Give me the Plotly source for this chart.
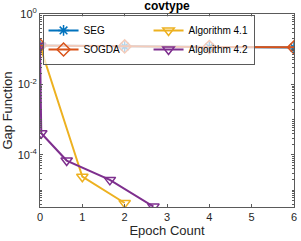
import plotly.graph_objects as go

seg_x = [0, 2, 4, 6]
seg_y = [0.127, 0.119, 0.115, 0.112]
sogda_x = [0, 2, 4, 6]
sogda_y = [0.127, 0.120, 0.116, 0.113]
alg41_x = [0, 1.0, 2.0]
alg41_y = [0.125, 2.4e-5, 4.3e-6]
alg42_x = [0, 0.03, 0.63, 1.65, 2.68]
alg42_y = [0.125, 4.1e-4, 6.9e-5, 1.95e-5, 3.4e-6]

x_ticks = [0, 1, 2, 3, 4, 5, 6]
y_ticks = [1, 1e-2, 1e-4]
y_ticktext = ["10<sup>0</sup>", "10<sup>-2</sup>", "10<sup>-4</sup>"]

C_SEG = "#0072BD"
C_SOGDA = "#D95319"
C_A41 = "#EDB120"
C_A42 = "#7E2F8E"

fig = go.Figure()
fig.add_trace(go.Scatter(x=seg_x, y=seg_y, name="SEG", mode="lines+markers",
                         line=dict(color=C_SEG, width=2),
                         marker=dict(symbol="asterisk-open", size=9, line=dict(color=C_SEG, width=1.5))))
fig.add_trace(go.Scatter(x=alg41_x, y=alg41_y, name="Algorithm 4.1", mode="lines+markers",
                         line=dict(color=C_A41, width=2),
                         marker=dict(symbol="triangle-down-open", size=10, line=dict(color=C_A41, width=1.5))))
fig.add_trace(go.Scatter(x=sogda_x, y=sogda_y, name="SOGDA", mode="lines+markers",
                         line=dict(color=C_SOGDA, width=2),
                         marker=dict(symbol="diamond-open", size=10, line=dict(color=C_SOGDA, width=1.5))))
fig.add_trace(go.Scatter(x=alg42_x, y=alg42_y, name="Algorithm 4.2", mode="lines+markers",
                         line=dict(color=C_A42, width=2),
                         marker=dict(symbol="triangle-down-open", size=10, line=dict(color=C_A42, width=1.5))))

axis_color = "#5a5a5a"
fig.update_layout(
    width=301, height=241,
    margin=dict(l=40, r=7, t=14, b=34, autoexpand=False),
    paper_bgcolor="white", plot_bgcolor="white",
    font=dict(family="Liberation Sans, Arial, sans-serif", size=11, color="#262626"),
    title=dict(text="<b>covtype</b>", xref="paper", x=0.5, xanchor="center", y=0.992, yanchor="top",
               font=dict(size=12, color="#000")),
    legend=dict(x=0.01, y=0.995, xanchor="left", yanchor="top", orientation="h",
                entrywidth=60, itemwidth=30, tracegroupgap=0,
                bgcolor="rgba(255,255,255,0.7)", bordercolor=axis_color, borderwidth=1,
                font=dict(size=10, color="#000")),
    showlegend=True,
)
fig.update_xaxes(range=[0, 6], tickvals=x_ticks, ticks="inside", ticklen=3,
                 showline=True, linecolor=axis_color, linewidth=1, mirror="ticks",
                 tickcolor=axis_color, showgrid=False, zeroline=False, automargin=False,
                 title=dict(text="Epoch Count", standoff=2),
                 tickfont=dict(size=11, color="#262626"))
fig.update_yaxes(type="log", range=[-5.48, 0], tickvals=y_ticks, ticktext=y_ticktext,
                 ticks="inside", ticklen=3,
                 showline=True, linecolor=axis_color, linewidth=1, mirror="ticks",
                 tickcolor=axis_color, showgrid=False, zeroline=False, automargin=False,
                 minor=dict(ticks="inside", ticklen=2, tickcolor=axis_color, dtick="D1"),
                 title=dict(text="Gap Function", standoff=2),
                 tickfont=dict(size=11, color="#262626"))

fig.write_html("out.html", config={"displayModeBar": False},
               post_script="document.body.style.margin='0';document.body.style.padding='0';")
